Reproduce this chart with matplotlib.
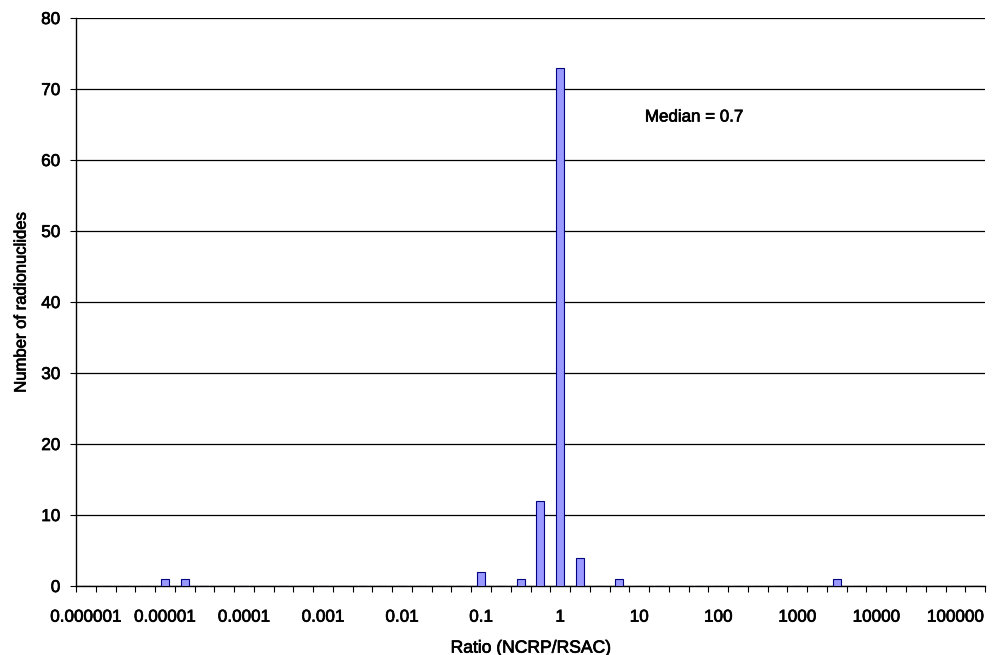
import numpy as np
import matplotlib
matplotlib.use('Agg')
import matplotlib.pyplot as plt
import matplotlib.patheffects as pe

plt.rcParams['font.family'] = ['Liberation Sans', 'DejaVu Sans']

# categories are quarter-decade bins from 1e-6 up to beyond 1e5
expoentes = np.arange(-6, 5.26, 0.25)
contagens = np.zeros(len(expoentes))
barras = {4: 1, 5: 1, 20: 2, 22: 1, 23: 12, 24: 73, 25: 4, 27: 1, 38: 1}
for i, v in barras.items():
    contagens[i] = v
rotulos = ['0.000001', '0.00001', '0.0001', '0.001', '0.01', '0.1', '1',
           '10', '100', '1000', '10000', '100000']

grosso = [pe.withStroke(linewidth=0.5, foreground='black')]

fig = plt.figure(figsize=(9.92, 6.55), dpi=100)
ax = fig.add_axes([0.0766, 0.1053, 0.9164, 0.8672])

x = np.arange(len(expoentes))
ax.bar(x, contagens, width=0.4, color='#9999ff', edgecolor='#000080', linewidth=0.8, zorder=3)

ax.set_xlim(-0.5, len(expoentes) - 0.5)
ax.set_ylim(0, 80)
ax.set_yticks(np.arange(0, 81, 10))
ax.yaxis.grid(True, color='black', linewidth=0.9, zorder=0)
ax.set_axisbelow(True)

ax.set_xticks(np.arange(-0.5, len(expoentes), 1))
ax.set_xticklabels([])
ax.set_xticks(x[::4][:len(rotulos)], minor=True)
ax.set_xticklabels(rotulos, minor=True)
ax.tick_params(axis='x', which='major', direction='out', length=4.3, color='black')
ax.tick_params(axis='x', which='minor', length=0, pad=17, labelsize=12.3)
ax.tick_params(axis='y', direction='out', length=4.3, labelsize=12.3, pad=7)
for t in ax.get_xticklabels(minor=True) + ax.get_yticklabels():
    t.set_path_effects(grosso)

for s in ['top', 'right']:
    ax.spines[s].set_visible(False)
ax.spines['left'].set_linewidth(1)
ax.spines['bottom'].set_linewidth(1)

ax.set_xlabel('Ratio (NCRP/RSAC)', fontsize=12.6, labelpad=11.5, path_effects=grosso)
ax.set_ylabel('Number of radionuclides', fontsize=12, labelpad=9, path_effects=grosso)
ax.text(0.68, 0.8257, 'Median = 0.7', transform=ax.transAxes, fontsize=12.2,
        ha='center', va='center', path_effects=grosso)

fig.savefig('out.png', dpi=100)
